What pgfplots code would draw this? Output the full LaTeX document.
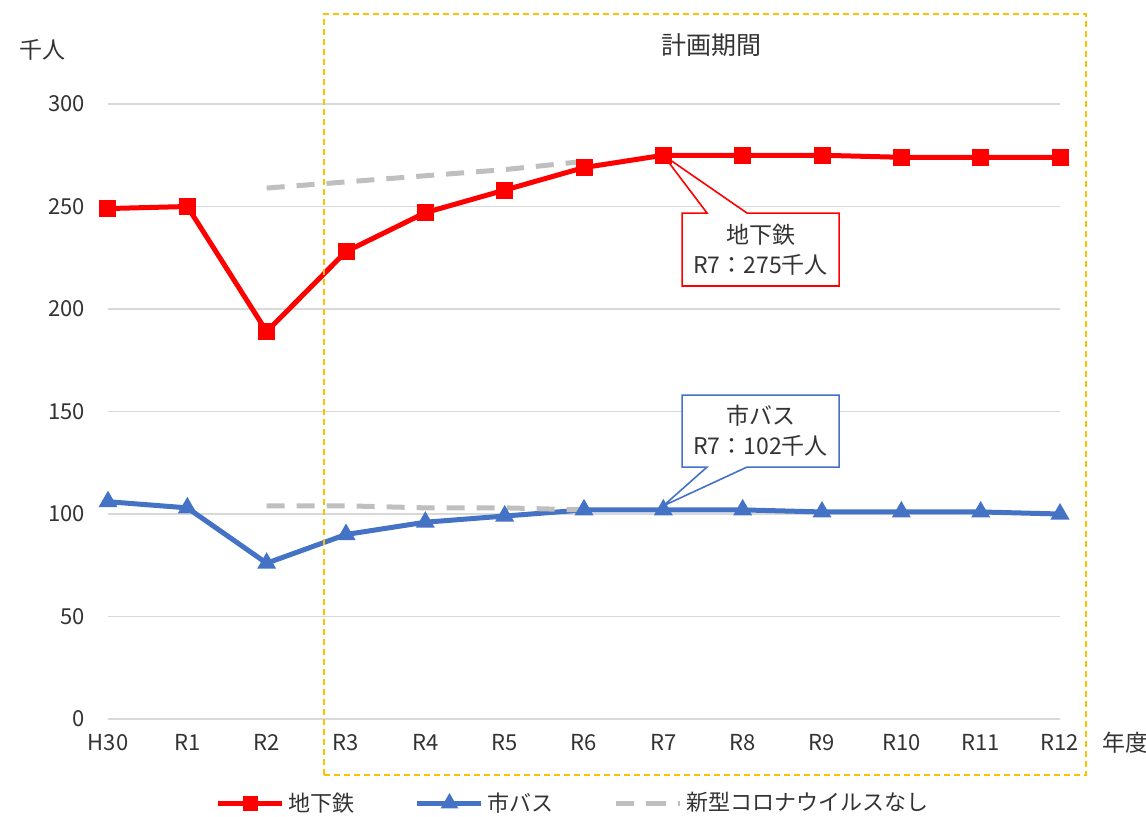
\documentclass[border=0pt]{standalone}
\usepackage{pgfplots}
\pgfplotsset{compat=1.18}
\usepackage{fontspec}
\setmainfont{Noto Sans CJK JP}

\definecolor{subred}{RGB}{255,0,0}
\definecolor{busblue}{RGB}{68,114,196}
\definecolor{covgray}{RGB}{191,191,191}
\definecolor{plangold}{RGB}{255,192,0}
\definecolor{gridgray}{RGB}{217,217,217}
\definecolor{txt}{RGB}{51,51,51}

\begin{document}
\begin{tikzpicture}
\begin{axis}[
    at={(0,0)}, anchor=south west,
    scale only axis,
    width=476pt, height=307.5pt,
    xmin=0, xmax=12, ymin=0, ymax=300,
    clip=false,
    axis line style={draw=none},
    tick style={draw=none},
    ymajorgrids,
    grid style={gridgray, line width=0.8pt},
    ytick={0,50,...,300},
    xtick={0,...,12},
    xticklabels={H30,R1,R2,R3,R4,R5,R6,R7,R8,R9,R10,R11,R12},
    /pgf/number format/assume math mode=true,
    ticklabel style={font=\fontsize{11}{13}\selectfont, text=txt},
    yticklabel style={xshift=-8pt},
    xticklabel style={yshift=-4pt},
    legend style={at={(0.49,-0.137)}, anchor=center, draw=none,
        font=\fontsize{11}{13}\selectfont, text=txt,
        legend columns=3,
        /tikz/every even column/.append style={column sep=28pt}},
    legend image code/.code={
        \draw[#1, mark size=2.6pt] (0pt,0pt) -- (16pt,0pt) plot coordinates {(16pt,0pt)} -- (32pt,0pt);
    },
]
% 地下鉄
\addplot[subred, line width=2.5pt, mark=square*, mark size=3pt,
    mark options={solid}] coordinates {
    (0,249) (1,250) (2,189) (3,228) (4,247) (5,258) (6,269)
    (7,275) (8,275) (9,275) (10,274) (11,274) (12,274)
};
\addlegendentry{地下鉄}
% 市バス
\addplot[busblue, line width=2.5pt, mark=triangle*, mark size=3pt,
    mark options={solid}] coordinates {
    (0,106) (1,103) (2,76) (3,90) (4,96) (5,99) (6,102)
    (7,102) (8,102) (9,101) (10,101) (11,101) (12,100)
};
\addlegendentry{市バス}
% 新型コロナウイルスなし
\addplot[covgray, line width=2.5pt, dash pattern=on 9pt off 6pt] coordinates {
    (2,259) (3,262) (4,265) (5,268) (6,272)
};
\addlegendentry{新型コロナウイルスなし}
\addplot[covgray, line width=2.5pt, dash pattern=on 9pt off 6pt, forget plot] coordinates {
    (2,104) (3,104) (4,103) (5,103) (6,102)
};

% 計画期間
\draw[plangold, line width=0.8pt, dash pattern=on 3pt off 2pt]
    (axis cs:2.72,-27.3) rectangle (axis cs:12.33,343.9);
\node[font=\fontsize{12.5}{14}\selectfont, text=txt] at (axis cs:7.61,328.8) {計画期間};
\node[font=\fontsize{11.5}{13}\selectfont, text=txt] at (axis cs:-0.83,326.3) {千人};
\node[font=\fontsize{11.5}{13}\selectfont, text=txt] at (axis cs:12.82,-11.5) {年度};

% callouts
\draw[subred, line width=0.8pt, fill=white]
    (axis cs:7.236,246.8) -- (axis cs:7.551,246.8) -- (axis cs:7,275)
    -- (axis cs:8.055,246.8) -- (axis cs:9.215,246.8) -- (axis cs:9.215,211.2)
    -- (axis cs:7.236,211.2) -- cycle;
\node[align=center, font=\fontsize{11.5}{15}\selectfont, text=txt]
    at (axis cs:8.225,229) {地下鉄\\R7：275千人};
\draw[busblue, line width=0.8pt, fill=white]
    (axis cs:7.236,158) -- (axis cs:9.215,158) -- (axis cs:9.215,122.9)
    -- (axis cs:8.055,122.9) -- (axis cs:7,104) -- (axis cs:7.551,122.9)
    -- (axis cs:7.236,122.9) -- cycle;
\node[align=center, font=\fontsize{11.5}{15}\selectfont, text=txt]
    at (axis cs:8.225,140.5) {市バス\\R7：102千人};
\end{axis}
\pgfresetboundingbox
\path[use as bounding box] (-54pt,-48.5pt) rectangle (519pt,359.5pt);
\end{tikzpicture}
\end{document}
